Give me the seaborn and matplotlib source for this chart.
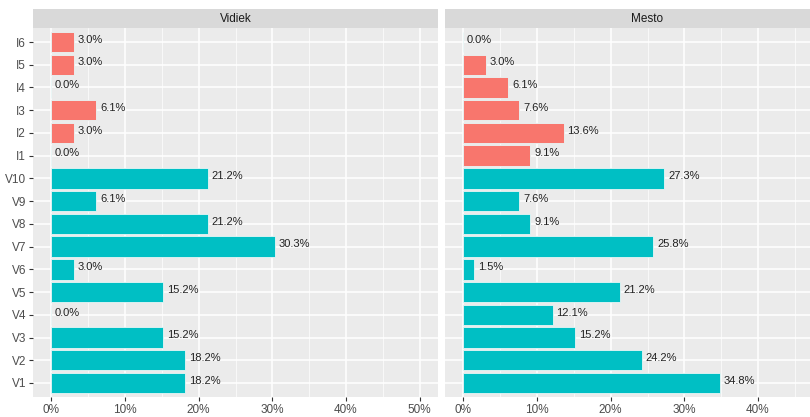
import pandas as pd
import numpy as np
import matplotlib.pyplot as plt
import seaborn as sns

# items top to bottom, as shown in the chart
items = ['I6', 'I5', 'I4', 'I3', 'I2', 'I1',
         'V10', 'V9', 'V8', 'V7', 'V6', 'V5', 'V4', 'V3', 'V2', 'V1']
groups = ['I'] * 6 + ['V'] * 10

vidiek = [3.0, 3.0, 0.0, 6.1, 3.0, 0.0,
          21.2, 6.1, 21.2, 30.3, 3.0, 15.2, 0.0, 15.2, 18.2, 18.2]
mesto = [0.0, 3.0, 6.1, 7.6, 13.6, 9.1,
         27.3, 7.6, 9.1, 25.8, 1.5, 21.2, 12.1, 15.2, 24.2, 34.8]

panels = ['Vidiek', 'Mesto']
x_ticks = [0, 10, 20, 30, 40, 50]

df = pd.concat([
    pd.DataFrame({'item': items, 'group': groups, 'pct': vidiek, 'area': 'Vidiek'}),
    pd.DataFrame({'item': items, 'group': groups, 'pct': mesto, 'area': 'Mesto'}),
])

sns.set_theme(style='darkgrid')
plt.rcParams['font.family'] = ['Liberation Sans', 'DejaVu Sans']

palette = {'I': '#F8766D', 'V': '#00BFC4'}

fig = plt.figure(figsize=(8.1, 4.17), dpi=100)
W, H = 810, 417
panel_left = [33, 445]
panel_w = 405
top, bottom = 28.4, 396.6
strip_top = 9

for i, name in enumerate(panels):
    ax = fig.add_axes([panel_left[i] / W, (H - bottom) / H, panel_w / W, (bottom - top) / H])
    sub = df[df['area'] == name]
    sns.barplot(data=sub, y='item', x='pct', hue='group', palette=palette, order=items,
                dodge=False, width=0.9, legend=False, ax=ax, saturation=1,
                edgecolor='#e8f6f6', linewidth=0.6)
    for j, v in enumerate(sub['pct']):
        ax.text(v + 0.5, j - 0.1, f'{v:.1f}%', ha='left', va='center', fontsize=8, color='#222222')

    ax.set_facecolor('#EBEBEB')
    ax.set_xlim(-2.5, 52.5)
    ax.set_ylim(len(items) - 0.4, -0.6)
    # right panel is cut by the figure edge before 50%
    shown = x_ticks if i == 0 else x_ticks[:-1]
    ax.set_xticks(shown)
    ax.set_xticklabels([f'{t}%' for t in shown])
    ax.set_xticks([5, 15, 25, 35, 45], minor=True)
    ax.grid(which='major', color='white', linewidth=1.1)
    ax.grid(which='minor', axis='x', color='white', linewidth=0.5)
    ax.set_axisbelow(True)
    for s in ax.spines.values():
        s.set_visible(False)
    ax.set_xlabel('')
    ax.set_ylabel('')
    ax.tick_params(axis='both', which='major', length=3, width=0.8, color='#333333',
                   labelsize=8.5, labelcolor='#4D4D4D', pad=2, left=True, bottom=True)
    ax.tick_params(axis='x', which='minor', length=0)
    if i == 1:
        ax.tick_params(axis='y', which='major', left=False, labelleft=False)

    strip = fig.add_axes([panel_left[i] / W, (H - top) / H, panel_w / W, (top - strip_top) / H])
    strip.set_facecolor('#D9D9D9')
    strip.set_xticks([])
    strip.set_yticks([])
    strip.grid(False)
    for s in strip.spines.values():
        s.set_visible(False)
    strip.text(0.5, 0.5, name, ha='center', va='center', fontsize=8.5, color='#1A1A1A',
               transform=strip.transAxes)

fig.savefig('out.png', dpi=100)
